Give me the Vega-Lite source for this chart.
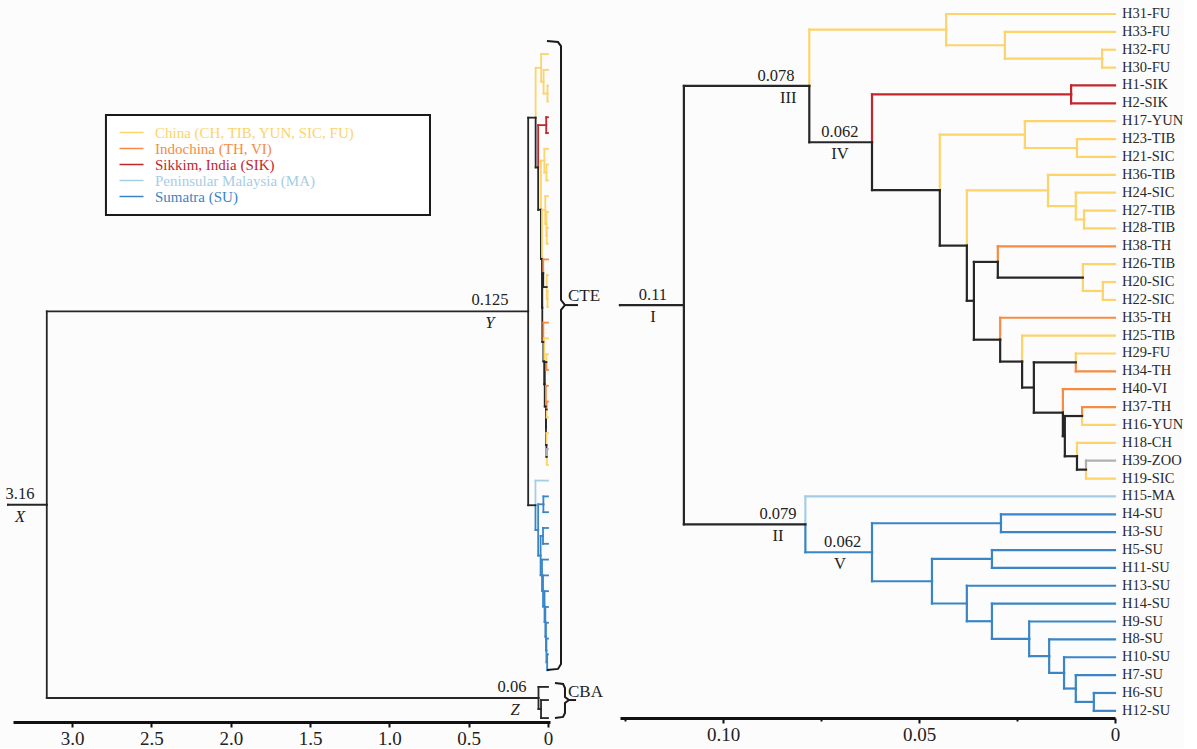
{
"$schema": "https://vega.github.io/schema/vega-lite/v6.json",
"background": "#fcfcfc",
"padding": {"left": 5, "top": 0, "right": 0, "bottom": 0},
"config": {"view": {"stroke": null}, "font": "Liberation Serif", "axis": {"grid": false}},
"spacing": 70,
"bounds": "flush",
"datasets": {
"tree": [
{"p":"B","px":0.078,"py":4.027,"cx":0.0431,"cy":0.875,"c":"cn"},
{"p":"B","px":0.078,"py":4.027,"cx":0.062,"cy":7.178,"c":"k"},
{"p":"B","px":0.0431,"py":0.875,"cx":0,"cy":0,"c":"cn"},
{"p":"B","px":0.0431,"py":0.875,"cx":0.0281,"cy":1.75,"c":"cn"},
{"p":"B","px":0.0281,"py":1.75,"cx":0,"cy":1,"c":"cn"},
{"p":"B","px":0.0281,"py":1.75,"cx":0.0033,"cy":2.5,"c":"cn"},
{"p":"B","px":0.0033,"py":2.5,"cx":0,"cy":2,"c":"cn"},
{"p":"B","px":0.0033,"py":2.5,"cx":0,"cy":3,"c":"cn"},
{"p":"B","px":0.062,"py":7.178,"cx":0.0112,"cy":4.5,"c":"sik"},
{"p":"B","px":0.062,"py":7.178,"cx":0.0447,"cy":9.857,"c":"k"},
{"p":"B","px":0.0112,"py":4.5,"cx":0,"cy":4,"c":"sik"},
{"p":"B","px":0.0112,"py":4.5,"cx":0,"cy":5,"c":"sik"},
{"p":"B","px":0.0447,"py":9.857,"cx":0.023,"cy":6.75,"c":"cn"},
{"p":"B","px":0.0447,"py":9.857,"cx":0.0378,"cy":12.963,"c":"k"},
{"p":"B","px":0.023,"py":6.75,"cx":0,"cy":6,"c":"cn"},
{"p":"B","px":0.023,"py":6.75,"cx":0.0097,"cy":7.5,"c":"cn"},
{"p":"B","px":0.0097,"py":7.5,"cx":0,"cy":7,"c":"cn"},
{"p":"B","px":0.0097,"py":7.5,"cx":0,"cy":8,"c":"cn"},
{"p":"B","px":0.0378,"py":12.963,"cx":0.0171,"cy":9.875,"c":"cn"},
{"p":"B","px":0.0378,"py":12.963,"cx":0.036,"cy":16.051,"c":"k"},
{"p":"B","px":0.0171,"py":9.875,"cx":0,"cy":9,"c":"cn"},
{"p":"B","px":0.0171,"py":9.875,"cx":0.01,"cy":10.75,"c":"cn"},
{"p":"B","px":0.01,"py":10.75,"cx":0,"cy":10,"c":"cn"},
{"p":"B","px":0.01,"py":10.75,"cx":0.0079,"cy":11.5,"c":"cn"},
{"p":"B","px":0.0079,"py":11.5,"cx":0,"cy":11,"c":"cn"},
{"p":"B","px":0.0079,"py":11.5,"cx":0,"cy":12,"c":"cn"},
{"p":"B","px":0.036,"py":16.051,"cx":0.0299,"cy":13.875,"c":"k"},
{"p":"B","px":0.036,"py":16.051,"cx":0.0293,"cy":18.227,"c":"k"},
{"p":"B","px":0.0299,"py":13.875,"cx":0,"cy":13,"c":"in"},
{"p":"B","px":0.0299,"py":13.875,"cx":0.0082,"cy":14.75,"c":"k"},
{"p":"B","px":0.0082,"py":14.75,"cx":0,"cy":14,"c":"cn"},
{"p":"B","px":0.0082,"py":14.75,"cx":0.0031,"cy":15.5,"c":"cn"},
{"p":"B","px":0.0031,"py":15.5,"cx":0,"cy":15,"c":"cn"},
{"p":"B","px":0.0031,"py":15.5,"cx":0,"cy":16,"c":"cn"},
{"p":"B","px":0.0293,"py":18.227,"cx":0,"cy":17,"c":"in"},
{"p":"B","px":0.0293,"py":18.227,"cx":0.0237,"cy":19.453,"c":"k"},
{"p":"B","px":0.0237,"py":19.453,"cx":0,"cy":18,"c":"cn"},
{"p":"B","px":0.0237,"py":19.453,"cx":0.0207,"cy":20.906,"c":"k"},
{"p":"B","px":0.0207,"py":20.906,"cx":0.01,"cy":19.5,"c":"k"},
{"p":"B","px":0.0207,"py":20.906,"cx":0.0133,"cy":22.3125,"c":"k"},
{"p":"B","px":0.01,"py":19.5,"cx":0,"cy":19,"c":"cn"},
{"p":"B","px":0.01,"py":19.5,"cx":0,"cy":20,"c":"in"},
{"p":"B","px":0.0133,"py":22.3125,"cx":0,"cy":21,"c":"in"},
{"p":"B","px":0.0133,"py":22.3125,"cx":0.0128,"cy":23.625,"c":"k"},
{"p":"B","px":0.0128,"py":23.625,"cx":0.0084,"cy":22.5,"c":"k"},
{"p":"B","px":0.0128,"py":23.625,"cx":0.0097,"cy":24.75,"c":"k"},
{"p":"B","px":0.0084,"py":22.5,"cx":0,"cy":22,"c":"in"},
{"p":"B","px":0.0084,"py":22.5,"cx":0,"cy":23,"c":"cn"},
{"p":"B","px":0.0097,"py":24.75,"cx":0,"cy":24,"c":"cn"},
{"p":"B","px":0.0097,"py":24.75,"cx":0.0074,"cy":25.5,"c":"k"},
{"p":"B","px":0.0074,"py":25.5,"cx":0,"cy":25,"c":"zoo"},
{"p":"B","px":0.0074,"py":25.5,"cx":0,"cy":26,"c":"cn"},
{"p":"B","px":0.079,"py":28.56,"cx":0,"cy":27,"c":"ma"},
{"p":"B","px":0.079,"py":28.56,"cx":0.062,"cy":30.123,"c":"su"},
{"p":"B","px":0.062,"py":30.123,"cx":0.0291,"cy":28.5,"c":"su"},
{"p":"B","px":0.062,"py":30.123,"cx":0.0467,"cy":31.746,"c":"su"},
{"p":"B","px":0.0291,"py":28.5,"cx":0,"cy":28,"c":"su"},
{"p":"B","px":0.0291,"py":28.5,"cx":0,"cy":29,"c":"su"},
{"p":"B","px":0.0467,"py":31.746,"cx":0.0314,"cy":30.5,"c":"su"},
{"p":"B","px":0.0467,"py":31.746,"cx":0.0378,"cy":32.992,"c":"su"},
{"p":"B","px":0.0314,"py":30.5,"cx":0,"cy":30,"c":"su"},
{"p":"B","px":0.0314,"py":30.5,"cx":0,"cy":31,"c":"su"},
{"p":"B","px":0.0378,"py":32.992,"cx":0,"cy":32,"c":"su"},
{"p":"B","px":0.0378,"py":32.992,"cx":0.0314,"cy":33.984,"c":"su"},
{"p":"B","px":0.0314,"py":33.984,"cx":0,"cy":33,"c":"su"},
{"p":"B","px":0.0314,"py":33.984,"cx":0.0219,"cy":34.969,"c":"su"},
{"p":"B","px":0.0219,"py":34.969,"cx":0,"cy":34,"c":"su"},
{"p":"B","px":0.0219,"py":34.969,"cx":0.0168,"cy":35.9375,"c":"su"},
{"p":"B","px":0.0168,"py":35.9375,"cx":0,"cy":35,"c":"su"},
{"p":"B","px":0.0168,"py":35.9375,"cx":0.013,"cy":36.875,"c":"su"},
{"p":"B","px":0.013,"py":36.875,"cx":0,"cy":36,"c":"su"},
{"p":"B","px":0.013,"py":36.875,"cx":0.01,"cy":37.75,"c":"su"},
{"p":"B","px":0.01,"py":37.75,"cx":0,"cy":37,"c":"su"},
{"p":"B","px":0.01,"py":37.75,"cx":0.0054,"cy":38.5,"c":"su"},
{"p":"B","px":0.0054,"py":38.5,"cx":0,"cy":38,"c":"su"},
{"p":"B","px":0.0054,"py":38.5,"cx":0,"cy":39,"c":"su"},
{"p":"R","px":0.1263,"py":16.29,"cx":0.11,"cy":16.29,"c":"k"},
{"p":"R","px":0.11,"py":16.29,"cx":0.078,"cy":4.027,"c":"k"},
{"p":"R","px":0.11,"py":16.29,"cx":0.079,"cy":28.56,"c":"k"},
{"p":"L","px":3.405,"py":28.53,"cx":3.16,"cy":28.53,"c":"k"},
{"p":"L","px":3.16,"py":28.53,"cx":0.125,"cy":16.29,"c":"k"},
{"p":"L","px":3.16,"py":28.53,"cx":0.06,"cy":40.76,"c":"k"},
{"p":"L","px":0.125,"py":16.29,"cx":0.078,"cy":4.027,"c":"k"},
{"p":"L","px":0.125,"py":16.29,"cx":0.079,"cy":28.56,"c":"k"},
{"p":"L","px":0.06,"py":40.76,"cx":0,"cy":40.06,"c":"k"},
{"p":"L","px":0.06,"py":40.76,"cx":0.044,"cy":41.46,"c":"k"},
{"p":"L","px":0.044,"py":41.46,"cx":0,"cy":40.89,"c":"k"},
{"p":"L","px":0.044,"py":41.46,"cx":0,"cy":42.03,"c":"k"}
],
"leaves": [
{"n":"H31-FU","i":0},{"n":"H33-FU","i":1},{"n":"H32-FU","i":2},{"n":"H30-FU","i":3},
{"n":"H1-SIK","i":4},{"n":"H2-SIK","i":5},{"n":"H17-YUN","i":6},{"n":"H23-TIB","i":7},
{"n":"H21-SIC","i":8},{"n":"H36-TIB","i":9},{"n":"H24-SIC","i":10},{"n":"H27-TIB","i":11},
{"n":"H28-TIB","i":12},{"n":"H38-TH","i":13},{"n":"H26-TIB","i":14},{"n":"H20-SIC","i":15},
{"n":"H22-SIC","i":16},{"n":"H35-TH","i":17},{"n":"H25-TIB","i":18},{"n":"H29-FU","i":19},
{"n":"H34-TH","i":20},{"n":"H40-VI","i":21},{"n":"H37-TH","i":22},{"n":"H16-YUN","i":23},
{"n":"H18-CH","i":24},{"n":"H39-ZOO","i":25},{"n":"H19-SIC","i":26},{"n":"H15-MA","i":27},
{"n":"H4-SU","i":28},{"n":"H3-SU","i":29},{"n":"H5-SU","i":30},{"n":"H11-SU","i":31},
{"n":"H13-SU","i":32},{"n":"H14-SU","i":33},{"n":"H9-SU","i":34},{"n":"H8-SU","i":35},
{"n":"H10-SU","i":36},{"n":"H7-SU","i":37},{"n":"H6-SU","i":38},{"n":"H12-SU","i":39}
],
"ann": [
{"p":"R","k":"v","t":"0.11","x":0.1179,"y":16.29},
{"p":"R","k":"r","t":"I","x":0.1179,"y":16.29},
{"p":"R","k":"v","t":"0.078","x":0.0865,"y":4.027},
{"p":"R","k":"r","t":"III","x":0.0834,"y":4.027},
{"p":"R","k":"v","t":"0.062","x":0.0702,"y":7.178},
{"p":"R","k":"r","t":"IV","x":0.0702,"y":7.178},
{"p":"R","k":"v","t":"0.079","x":0.086,"y":28.56},
{"p":"R","k":"r","t":"II","x":0.086,"y":28.56},
{"p":"R","k":"v","t":"0.062","x":0.0695,"y":30.123},
{"p":"R","k":"r","t":"V","x":0.0702,"y":30.123},
{"p":"L","k":"v","t":"3.16","x":3.329,"y":28.53},
{"p":"L","k":"r","t":"X","x":3.329,"y":28.53},
{"p":"L","k":"v","t":"0.125","x":0.366,"y":16.29},
{"p":"L","k":"r","t":"Y","x":0.366,"y":16.29},
{"p":"L","k":"v","t":"0.06","x":0.227,"y":40.76},
{"p":"L","k":"r","t":"Z","x":0.208,"y":40.76},
{"p":"L","k":"b","t":"CTE","x":-0.126,"y":15.32},
{"p":"L","k":"b","t":"CBA","x":-0.126,"y":40.38}
],
"br": [
{"g":"cte","o":0,"bx":0.0063,"by":-0.823},
{"g":"cte","o":1,"bx":-0.063,"by":-0.759},
{"g":"cte","o":2,"bx":-0.082,"by":-0.506},
{"g":"cte","o":3,"bx":-0.082,"by":15.57},
{"g":"cte","o":4,"bx":-0.107,"by":15.89},
{"g":"cte","o":5,"bx":-0.082,"by":16.2},
{"g":"cte","o":6,"bx":-0.082,"by":38.61},
{"g":"cte","o":7,"bx":-0.063,"by":38.92},
{"g":"cte","o":8,"bx":0.0063,"by":38.99},
{"g":"cte_t","o":0,"bx":-0.107,"by":15.89},
{"g":"cte_t","o":1,"bx":-0.189,"by":15.89},
{"g":"cba","o":0,"bx":-0.044,"by":39.81},
{"g":"cba","o":1,"bx":-0.095,"by":39.87},
{"g":"cba","o":2,"bx":-0.107,"by":40.13},
{"g":"cba","o":3,"bx":-0.107,"by":40.7},
{"g":"cba","o":4,"bx":-0.132,"by":40.89},
{"g":"cba","o":5,"bx":-0.107,"by":41.08},
{"g":"cba","o":6,"bx":-0.107,"by":41.71},
{"g":"cba","o":7,"bx":-0.095,"by":41.96},
{"g":"cba","o":8,"bx":-0.044,"by":42.03},
{"g":"cba_t","o":0,"bx":-0.132,"by":40.89},
{"g":"cba_t","o":1,"bx":-0.177,"by":40.89}
]
},
"hconcat": [
{
"width": 537, "height": 722,
"layer": [
{
"data": {"values": [{"box": "legend"}]},
"mark": {"type": "rect", "fill": "#ffffff", "stroke": "#1a1a1a", "strokeWidth": 2},
"encoding": {
"x": {"datum": 2.787, "type": "quantitative", "scale": {"domain": [-0.0126, 3.373], "reverse": true, "nice": false, "zero": false}},
"x2": {"datum": 0.744},
"y": {"datum": 3.86, "type": "quantitative", "scale": {"domain": [-3.42, 42.28], "reverse": true, "nice": false, "zero": false}, "axis": null},
"y2": {"datum": 10.19}
}
},
{
"data": {"name": "tree"},
"transform": [{"filter": "datum.p != 'R'"}],
"mark": {"type": "rule", "strokeWidth": 1.8, "strokeCap": "square"},
"encoding": {
"x": {"field": "px", "type": "quantitative", "scale": {"domain": [-0.0126, 3.373], "reverse": true, "nice": false, "zero": false},
"axis": {"values": [3, 2.5, 2, 1.5, 1, 0.5, 0], "labelExpr": "datum.value == 0 ? '0' : format(datum.value, '.1f')", "title": null, "domainColor": "#111111", "domainWidth": 3, "tickColor": "#111111", "tickWidth": 2, "tickSize": 5, "labelFontSize": 19, "labelColor": "#222222", "labelPadding": 2, "labelFont": "Liberation Serif", "labelFlush": false, "grid": false}},
"y": {"field": "py", "type": "quantitative", "scale": {"domain": [-3.42, 42.28], "reverse": true, "nice": false, "zero": false}, "axis": null},
"y2": {"field": "cy"},
"color": {"field": "c", "type": "nominal", "scale": {"domain": ["cn", "in", "sik", "ma", "su", "k", "zoo"], "range": ["#fdd36b", "#f68b44", "#c1272d", "#a6cde6", "#3a85c5", "#262626", "#b0b0b0"]},
"legend": {"values": ["cn", "in", "sik", "ma", "su"], "orient": "none", "legendX": 111, "legendY": 125, "title": null, "symbolType": "M-2,0H2", "symbolSize": 144, "symbolStrokeWidth": 1.5, "labelFont": "Liberation Serif", "labelFontSize": 15, "labelOffset": 16, "labelLimit": 400, "rowPadding": 0, "padding": 0,
"labelExpr": "datum.label == 'cn' ? 'China (CH, TIB, YUN, SIC, FU)' : datum.label == 'in' ? 'Indochina (TH, VI)' : datum.label == 'sik' ? 'Sikkim, India (SIK)' : datum.label == 'ma' ? 'Peninsular Malaysia (MA)' : 'Sumatra (SU)'",
"encode": {"labels": {"update": {"fill": {"scale": "color", "field": "value"}}}}}}
}
},
{
"data": {"name": "tree"},
"transform": [{"filter": "datum.p != 'R'"}],
"mark": {"type": "rule", "strokeWidth": 1.8, "strokeCap": "square"},
"encoding": {
"x": {"field": "px", "type": "quantitative", "scale": {"domain": [-0.0126, 3.373], "reverse": true, "nice": false, "zero": false}},
"x2": {"field": "cx"},
"y": {"field": "cy", "type": "quantitative", "scale": {"domain": [-3.42, 42.28], "reverse": true, "nice": false, "zero": false}, "axis": null},
"color": {"field": "c", "type": "nominal", "scale": {"domain": ["cn", "in", "sik", "ma", "su", "k", "zoo"], "range": ["#fdd36b", "#f68b44", "#c1272d", "#a6cde6", "#3a85c5", "#262626", "#b0b0b0"]}}
}
},
{
"data": {"name": "br"},
"mark": {"type": "line", "stroke": "#1a1a1a", "strokeWidth": 2},
"encoding": {
"x": {"field": "bx", "type": "quantitative", "scale": {"domain": [-0.0126, 3.373], "reverse": true, "nice": false, "zero": false}},
"y": {"field": "by", "type": "quantitative", "scale": {"domain": [-3.42, 42.28], "reverse": true, "nice": false, "zero": false}, "axis": null},
"detail": {"field": "g", "type": "nominal"},
"order": {"field": "o", "type": "quantitative"}
}
},
{
"data": {"name": "ann"},
"transform": [{"filter": "datum.p == 'L' && datum.k == 'v'"}],
"mark": {"type": "text", "font": "Liberation Serif", "fontSize": 16.5, "color": "#222222", "baseline": "bottom", "align": "center", "dy": -3},
"encoding": {
"x": {"field": "x", "type": "quantitative", "scale": {"domain": [-0.0126, 3.373], "reverse": true, "nice": false, "zero": false}},
"y": {"field": "y", "type": "quantitative", "scale": {"domain": [-3.42, 42.28], "reverse": true, "nice": false, "zero": false}, "axis": null},
"text": {"field": "t"}
}
},
{
"data": {"name": "ann"},
"transform": [{"filter": "datum.p == 'L' && datum.k == 'r'"}],
"mark": {"type": "text", "font": "Liberation Serif", "fontSize": 16.5, "fontStyle": "italic", "color": "#222222", "baseline": "top", "align": "center", "dy": 4},
"encoding": {
"x": {"field": "x", "type": "quantitative", "scale": {"domain": [-0.0126, 3.373], "reverse": true, "nice": false, "zero": false}},
"y": {"field": "y", "type": "quantitative", "scale": {"domain": [-3.42, 42.28], "reverse": true, "nice": false, "zero": false}, "axis": null},
"text": {"field": "t"}
}
},
{
"data": {"name": "ann"},
"transform": [{"filter": "datum.k == 'b'"}],
"mark": {"type": "text", "font": "Liberation Serif", "fontSize": 17, "color": "#222222", "baseline": "middle", "align": "left"},
"encoding": {
"x": {"field": "x", "type": "quantitative", "scale": {"domain": [-0.0126, 3.373], "reverse": true, "nice": false, "zero": false}},
"y": {"field": "y", "type": "quantitative", "scale": {"domain": [-3.42, 42.28], "reverse": true, "nice": false, "zero": false}, "axis": null},
"text": {"field": "t"}
}
}
]
},
{
"width": 495, "height": 718,
"layer": [
{
"data": {"name": "tree"},
"transform": [{"filter": "datum.p != 'L'"}],
"mark": {"type": "rule", "strokeWidth": 2.2, "strokeCap": "square"},
"encoding": {
"x": {"field": "px", "type": "quantitative", "scale": {"domain": [0, 0.1263], "reverse": true, "nice": false, "zero": false},
"axis": {"values": [0.125, 0.1, 0.075, 0.05, 0.025, 0], "labelExpr": "datum.value == 0 ? '0' : (format(datum.value, '.3f') == '0.100' || format(datum.value, '.3f') == '0.050') ? format(datum.value, '.2f') : ''", "title": null, "domainColor": "#111111", "domainWidth": 3, "tickColor": "#111111", "tickWidth": 2,
"tickSize": {"condition": {"test": "datum.value == 0 || format(datum.value, '.3f') == '0.100' || format(datum.value, '.3f') == '0.050'", "value": 5}, "value": 3},
"labelFontSize": 19, "labelColor": "#222222", "labelPadding": 2, "labelFont": "Liberation Serif", "labelFlush": false, "grid": false}},
"y": {"field": "py", "type": "quantitative", "scale": {"domain": [-0.783, 39.4], "reverse": true, "nice": false, "zero": false}, "axis": null},
"y2": {"field": "cy"},
"color": {"field": "c", "type": "nominal", "scale": {"domain": ["cn", "in", "sik", "ma", "su", "k", "zoo"], "range": ["#fdd36b", "#f68b44", "#c1272d", "#a6cde6", "#3a85c5", "#262626", "#b0b0b0"]},
"legend": {"values": ["cn", "in", "sik", "ma", "su"], "orient": "none", "legendX": 111, "legendY": 125, "title": null, "symbolType": "M-2,0H2", "symbolSize": 144, "symbolStrokeWidth": 1.5, "labelFont": "Liberation Serif", "labelFontSize": 15, "labelOffset": 16, "labelLimit": 400, "rowPadding": 0, "padding": 0,
"labelExpr": "datum.label == 'cn' ? 'China (CH, TIB, YUN, SIC, FU)' : datum.label == 'in' ? 'Indochina (TH, VI)' : datum.label == 'sik' ? 'Sikkim, India (SIK)' : datum.label == 'ma' ? 'Peninsular Malaysia (MA)' : 'Sumatra (SU)'",
"encode": {"labels": {"update": {"fill": {"scale": "color", "field": "value"}}}}}}
}
},
{
"data": {"name": "tree"},
"transform": [{"filter": "datum.p != 'L'"}],
"mark": {"type": "rule", "strokeWidth": 2.2, "strokeCap": "square"},
"encoding": {
"x": {"field": "px", "type": "quantitative", "scale": {"domain": [0, 0.1263], "reverse": true, "nice": false, "zero": false}},
"x2": {"field": "cx"},
"y": {"field": "cy", "type": "quantitative", "scale": {"domain": [-0.783, 39.4], "reverse": true, "nice": false, "zero": false}, "axis": null},
"color": {"field": "c", "type": "nominal", "scale": {"domain": ["cn", "in", "sik", "ma", "su", "k", "zoo"], "range": ["#fdd36b", "#f68b44", "#c1272d", "#a6cde6", "#3a85c5", "#262626", "#b0b0b0"]}}
}
},
{
"data": {"name": "leaves"},
"mark": {"type": "text", "font": "Liberation Serif", "fontSize": 14.5, "color": "#2a2a2a", "baseline": "middle", "align": "left", "dx": 7},
"encoding": {
"x": {"datum": 0, "type": "quantitative", "scale": {"domain": [0, 0.1263], "reverse": true, "nice": false, "zero": false}},
"y": {"field": "i", "type": "quantitative", "scale": {"domain": [-0.783, 39.4], "reverse": true, "nice": false, "zero": false}, "axis": null},
"text": {"field": "n"}
}
},
{
"data": {"name": "ann"},
"transform": [{"filter": "datum.p == 'R' && datum.k == 'v'"}],
"mark": {"type": "text", "font": "Liberation Serif", "fontSize": 16.5, "color": "#222222", "baseline": "bottom", "align": "center", "dy": -2},
"encoding": {
"x": {"field": "x", "type": "quantitative", "scale": {"domain": [0, 0.1263], "reverse": true, "nice": false, "zero": false}},
"y": {"field": "y", "type": "quantitative", "scale": {"domain": [-0.783, 39.4], "reverse": true, "nice": false, "zero": false}, "axis": null},
"text": {"field": "t"}
}
},
{
"data": {"name": "ann"},
"transform": [{"filter": "datum.p == 'R' && datum.k == 'r'"}],
"mark": {"type": "text", "font": "Liberation Serif", "fontSize": 16.5, "color": "#222222", "baseline": "top", "align": "center", "dy": 4},
"encoding": {
"x": {"field": "x", "type": "quantitative", "scale": {"domain": [0, 0.1263], "reverse": true, "nice": false, "zero": false}},
"y": {"field": "y", "type": "quantitative", "scale": {"domain": [-0.783, 39.4], "reverse": true, "nice": false, "zero": false}, "axis": null},
"text": {"field": "t"}
}
}
]
}
]
}
